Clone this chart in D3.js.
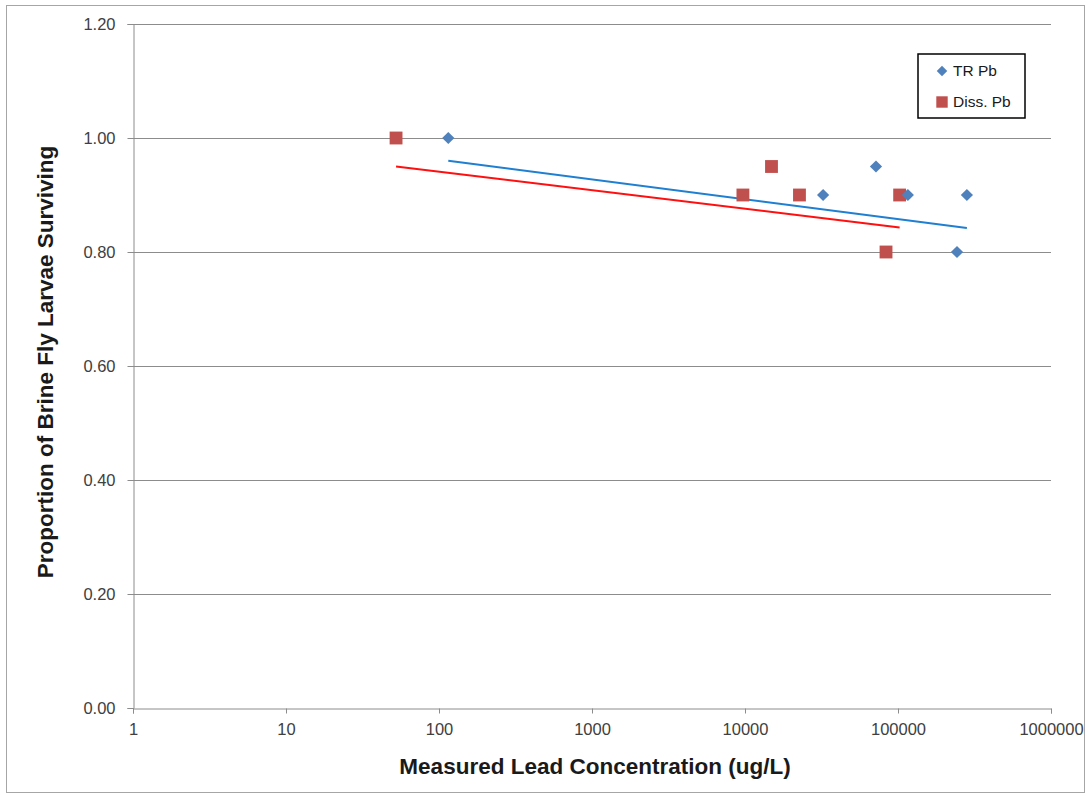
<!DOCTYPE html>
<html><head><meta charset="utf-8">
<script src="https://cdn.jsdelivr.net/npm/d3@7"></script>
<style>body{margin:0;background:#fff}svg{display:block}</style>
</head><body>
<script>
const trX = [115, 32400, 71800, 116000, 243000, 282000];
const trY = [1.00, 0.90, 0.95, 0.90, 0.80, 0.90];
const dissX = [52.4, 9690, 14900, 22700, 83500, 102500];
const dissY = [1.00, 0.90, 0.95, 0.90, 0.80, 0.90];
const trTrendX = [115, 282000];
const trTrendY = [0.960, 0.842];
const dissTrendX = [52.4, 102500];
const dissTrendY = [0.950, 0.843];
const xTicks = [1, 10, 100, 1000, 10000, 100000, 1000000];
const yTicks = [0, 0.2, 0.4, 0.6, 0.8, 1.0, 1.2];
const legendLabels = ["TR Pb", "Diss. Pb"];

const W = 1089, H = 796;
const svg = d3.select("body").append("svg").attr("width", W).attr("height", H);
const font = "'Liberation Sans', Arial, sans-serif";
svg.append("rect").attr("x", 6.5).attr("y", 5.5).attr("width", 1078).attr("height", 787)
  .attr("fill", "#fff").attr("stroke", "#a6a6a6").attr("stroke-width", 1);

const x = d3.scaleLog().domain([1, 1000000]).range([133, 1051]);
const y = d3.scaleLinear().domain([0, 1.2]).range([708, 24]);

// gridlines
svg.append("g").selectAll("line").data(yTicks.filter(d => d > 0)).join("line")
  .attr("x1", 133).attr("x2", 1051)
  .attr("y1", d => Math.round(y(d)) + 0.5).attr("y2", d => Math.round(y(d)) + 0.5)
  .attr("stroke", "#8c8c8c").attr("stroke-width", 1);

// axes
const xAxis = svg.append("g").attr("transform", "translate(0,708.5)")
  .call(d3.axisBottom(x).tickValues(xTicks).tickFormat(d3.format("d")).tickSize(5).tickPadding(10));
const yAxis = svg.append("g").attr("transform", "translate(133.5,0)")
  .call(d3.axisLeft(y).tickValues(yTicks).tickFormat(d3.format(".2f")).tickSize(6).tickPadding(12));
[xAxis, yAxis].forEach(a => {
  a.select(".domain").attr("stroke", "#8c8c8c");
  a.selectAll(".tick line").attr("stroke", "#8c8c8c");
  a.selectAll(".tick text").attr("fill", "#404040").style("font-family", font).style("font-size", "16.5px");
});

// trend lines
const line = d3.line().x(d => x(d[0])).y(d => y(d[1]));
svg.append("path").datum(trTrendX.map((v, i) => [v, trTrendY[i]]))
  .attr("d", line).attr("fill", "none").attr("stroke", "#1f7fd0").attr("stroke-width", 2);
svg.append("path").datum(dissTrendX.map((v, i) => [v, dissTrendY[i]]))
  .attr("d", line).attr("fill", "none").attr("stroke", "#ff0f0f").attr("stroke-width", 2);

// points
const diamond = d3.symbol().type(d3.symbolDiamond2).size(95);
const square = d3.symbol().type(d3.symbolSquare).size(165);
svg.append("g").selectAll("path").data(dissX.map((v, i) => [v, dissY[i]])).join("path")
  .attr("d", square).attr("transform", d => `translate(${x(d[0])},${y(d[1])})`).attr("fill", "#c0504d");
svg.append("g").selectAll("path").data(trX.map((v, i) => [v, trY[i]])).join("path")
  .attr("d", diamond).attr("transform", d => `translate(${x(d[0])},${y(d[1])})`).attr("fill", "#4f81bd");

// legend
const lg = svg.append("g");
lg.append("rect").attr("x", 918).attr("y", 54).attr("width", 107).attr("height", 64)
  .attr("fill", "#fff").attr("stroke", "#000").attr("stroke-width", 1.5);
lg.append("path").attr("d", d3.symbol().type(d3.symbolDiamond2).size(70)).attr("transform", "translate(942,71)").attr("fill", "#4f81bd");
lg.append("path").attr("d", d3.symbol().type(d3.symbolSquare).size(130)).attr("transform", "translate(942,102)").attr("fill", "#c0504d");
lg.selectAll("text").data(legendLabels).join("text")
  .attr("x", 953).attr("y", (d, i) => 71 + i * 31).attr("dy", "0.35em")
  .style("font-family", font).style("font-size", "15.5px").attr("fill", "#1a1a1a").text(d => d);

// axis titles
svg.append("text").attr("x", 595).attr("y", 774).attr("text-anchor", "middle")
  .style("font-family", font).style("font-size", "22.5px").style("font-weight", "bold").attr("fill", "#1a1a1a")
  .text("Measured Lead Concentration (ug/L)");
svg.append("text").attr("transform", "translate(53,362) rotate(-90)").attr("text-anchor", "middle")
  .style("font-family", font).style("font-size", "22.5px").style("font-weight", "bold").attr("fill", "#1a1a1a")
  .text("Proportion of Brine Fly Larvae Surviving");
</script>
</body></html>
